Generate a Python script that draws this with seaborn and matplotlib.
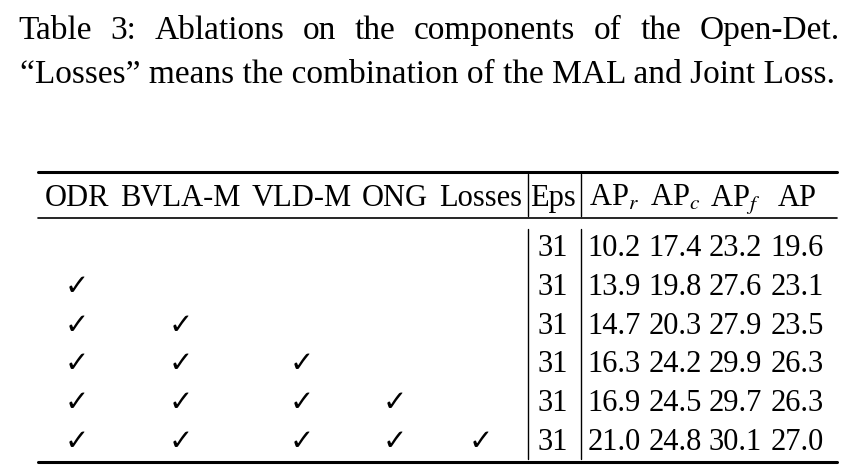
import matplotlib
matplotlib.use("Agg")
import matplotlib.pyplot as plt
import seaborn as sns

# table content
components = ["ODR", "BVLA-M", "VLD-M", "ONG", "Losses"]
metrics = ["AP$_r$", "AP$_c$", "AP$_f$", "AP"]
n_checked = [0, 1, 2, 3, 4, 5]          # how many components are on in each row
eps = [31, 31, 31, 31, 31, 31]
ap_r = [10.2, 13.9, 14.7, 16.3, 16.9, 21.0]
ap_c = [17.4, 19.8, 20.3, 24.2, 24.5, 24.8]
ap_f = [23.2, 27.6, 27.9, 29.9, 29.7, 30.1]
ap = [19.6, 23.1, 23.5, 26.3, 26.3, 27.0]

caption = ["Table 3:  Ablations on the components of the Open-Det.",
           "\u201cLosses\u201d means the combination of the MAL and Joint Loss."]

sns.set_theme(style="white")
plt.rcParams['font.family'] = ['Liberation Serif', 'DejaVu Serif', 'DejaVu Sans']
plt.rcParams['mathtext.fontset'] = 'stix'
plt.rcParams['text.color'] = 'black'

fig = plt.figure(figsize=(8.56, 4.76), dpi=100)
ax = fig.add_axes([0, 0, 1, 1])
ax.set_xlim(0, 856)
ax.set_ylim(476, 0)
ax.axis("off")
renderer = fig.canvas.get_renderer()

cap_fs = 24
fs = 22


def text_widths(strings, size):
    tmp = [ax.text(0, 0, s, fontsize=size) for s in strings]
    w = [t.get_window_extent(renderer).width for t in tmp]
    for t in tmp:
        t.remove()
    return w


def spread(widths, left, right):
    # left edges of items spread evenly between left and right
    gap = (right - left - sum(widths)) / (len(widths) - 1)
    xs, x = [], left
    for wd in widths:
        xs.append(x)
        x += wd + gap
    return xs


# caption line 1 is justified over the full width, like in the paper
words = caption[0].split()
ww = text_widths(words, cap_fs)
for w, x in zip(words, spread(ww, 18, 840)):
    ax.text(x, 39, w, ha="left", va="baseline", fontsize=cap_fs)
ax.text(428, 83, caption[1], ha="center", va="baseline", fontsize=cap_fs)

# component columns: header words set side by side, checks under their centres
cw = text_widths(components, fs)
comp_x = [x + w / 2 for x, w in zip(spread(cw, 45, 522), cw)]
eps_x = 553
met_x = [614, 675, 735, 797]
header_y = 206
row_y0, row_dy = 256, 38.8
vline_x = [528, 581]

for name, x in zip(components, comp_x):
    ax.text(x, header_y, name, ha="center", va="baseline", fontsize=fs)
ax.text(eps_x, header_y, "Eps", ha="center", va="baseline", fontsize=fs)
for name, x in zip(metrics, met_x):
    ax.text(x, header_y, name, ha="center", va="baseline", fontsize=fs)

for i, k in enumerate(n_checked):
    y = row_y0 + i * row_dy
    for j in range(k):
        ax.text(comp_x[j], y, "\u2713", ha="center", va="baseline", fontsize=21,
                family=["DejaVu Sans"])
    ax.text(eps_x, y, str(eps[i]), ha="center", va="baseline", fontsize=fs)
    for vals, x in zip([ap_r, ap_c, ap_f, ap], met_x):
        ax.text(x, y, f"{vals[i]:.1f}", ha="center", va="baseline", fontsize=fs)

# rules
ax.plot([38, 837], [172, 172], color="black", lw=2.2)
ax.plot([38, 837], [218, 218], color="black", lw=1.2)
ax.plot([38, 837], [462, 462], color="black", lw=2.2)
for x in vline_x:
    ax.plot([x, x], [174, 216], color="black", lw=1)
    ax.plot([x, x], [229, 459], color="black", lw=1)

fig.savefig("out.png", dpi=100)
